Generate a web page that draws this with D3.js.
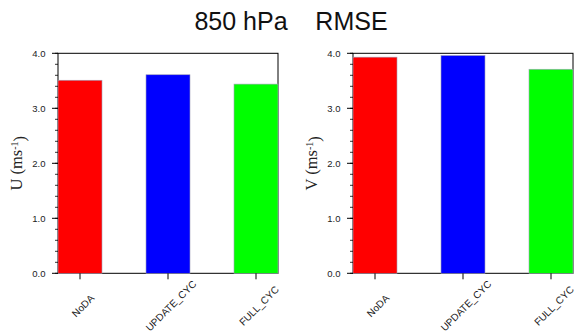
<!DOCTYPE html>
<html><head><meta charset="utf-8">
<script src="https://cdn.jsdelivr.net/npm/d3@7"></script>
<style>html,body{margin:0;padding:0;background:#fff;}</style>
</head><body>
<svg id="chart" width="577" height="334"></svg>
<script>
const categories = ["NoDA", "UPDATE_CYC", "FULL_CYC"];
const colors = ["#ff0000", "#0000ff", "#00ff00"];
const uValues = [3.51, 3.61, 3.44];
const vValues = [3.93, 3.96, 3.71];
const yTicks = [0, 1, 2, 3, 4];
const yMinorTicks = d3.range(0, 4.0001, 0.2);
const title = "850 hPa    RMSE";

const svg = d3.select("#chart");
svg.append("text").attr("x", 291).attr("y", 30)
  .attr("text-anchor", "middle")
  .style("font-family", "Liberation Sans, Arial, sans-serif")
  .style("font-size", "25px").style("white-space", "pre")
  .attr("fill", "#111").text(title);

function panel(x0, x1, values, varName) {
  const top = 53.3, bottom = 273.3;
  const y = d3.scaleLinear().domain([0, 4]).range([bottom, top]);
  const x = d3.scaleLinear().domain([0.75, 3.25]).range([x0, x1]);
  const g = svg.append("g");
  g.append("rect").attr("x", x0).attr("y", top).attr("width", x1 - x0).attr("height", bottom - top)
    .attr("fill", "none").attr("stroke", "#000").attr("stroke-width", 1);
  g.selectAll("rect.bar").data(values).enter().append("rect").attr("class", "bar")
    .attr("x", (d, i) => x(i + 1 - 0.25))
    .attr("width", (d, i) => x(i + 1 + 0.25) - x(i + 1 - 0.25))
    .attr("y", d => y(d))
    .attr("height", d => y(0) - y(d))
    .attr("fill", (d, i) => colors[i])
    .attr("stroke", "#a0a0b8").attr("stroke-width", 0.6);
  g.selectAll("line.minor").data(yMinorTicks).enter().append("line")
    .attr("x1", x0 - 3).attr("x2", x0)
    .attr("y1", d => y(d)).attr("y2", d => y(d))
    .attr("stroke", "#000").attr("stroke-width", 0.8);
  g.selectAll("line.major").data(yTicks).enter().append("line")
    .attr("x1", x0 - 6).attr("x2", x0)
    .attr("y1", d => y(d)).attr("y2", d => y(d))
    .attr("stroke", "#000").attr("stroke-width", 1);
  g.selectAll("text.ytl").data(yTicks).enter().append("text")
    .attr("x", x0 - 12.5).attr("y", d => y(d)).attr("dy", "0.35em")
    .attr("text-anchor", "end")
    .style("font-family", "Liberation Sans, Arial, sans-serif").style("font-size", "9.5px")
    .attr("fill", "#222").text(d => d3.format(".1f")(d));
  g.selectAll("line.xt").data(categories).enter().append("line")
    .attr("x1", (d, i) => x(i + 1)).attr("x2", (d, i) => x(i + 1))
    .attr("y1", bottom).attr("y2", bottom + 6)
    .attr("stroke", "#000").attr("stroke-width", 1);
  g.selectAll("text.xtl").data(categories).enter().append("text")
    .attr("transform", (d, i) => `translate(${x(i + 1) + 3},${bottom + 32.5}) rotate(-45)`)
    .attr("text-anchor", "middle").attr("dy", "0.35em")
    .style("font-family", "Liberation Sans, Arial, sans-serif").style("font-size", "10px")
    .attr("fill", "#222").text(d => d);
  const lab = g.append("text")
    .attr("transform", `translate(${x0 - 36},${(top + bottom) / 2}) rotate(-90)`)
    .attr("text-anchor", "middle")
    .style("font-family", "Liberation Serif, Times New Roman, serif").style("font-size", "16.5px")
    .attr("fill", "#222");
  lab.append("tspan").text(varName + " (ms");
  lab.append("tspan").attr("dy", "-0.45em").style("font-size", "10px").text("-1");
  lab.append("tspan").attr("dy", "0.45em").text(")");
}

panel(58, 278, uValues, "U");
panel(353, 573, vValues, "V");
</script>
</body></html>
